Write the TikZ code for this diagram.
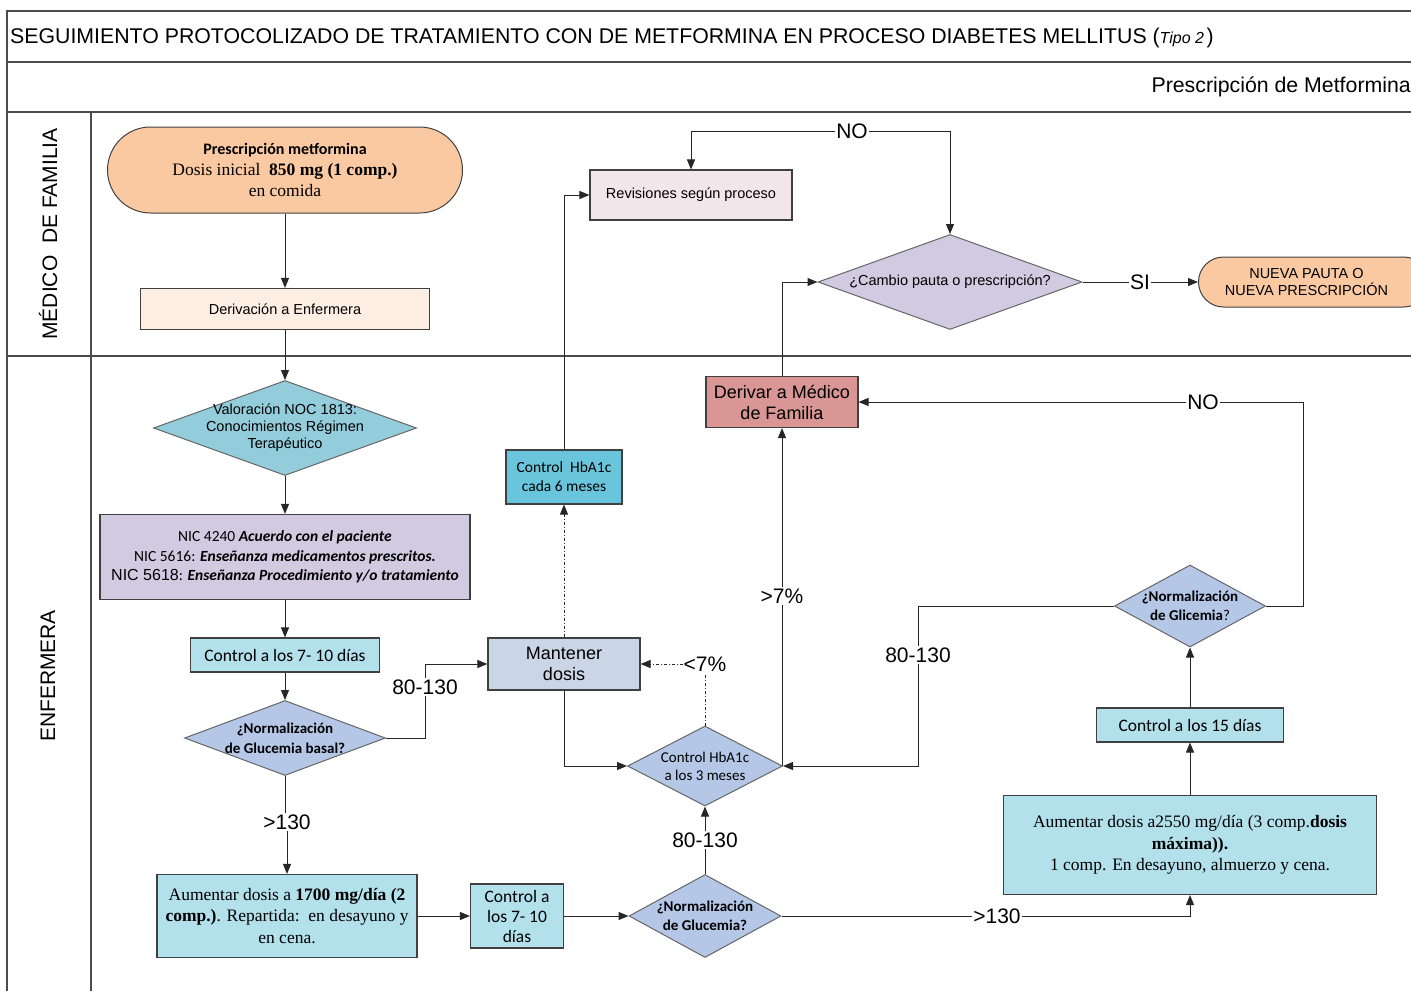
\documentclass[tikz,border=0pt]{standalone}
\usepackage{fontspec}
\setmainfont{Liberation Sans}
\newfontfamily\calib{Carlito}
\newfontfamily\tnr{Liberation Serif}
\usetikzlibrary{shapes.geometric,arrows.meta}

\newcommand{\fsz}[2]{\fontsize{#1}{#2}\selectfont}

\definecolor{peach}{HTML}{FAC9A2}
\definecolor{cream}{HTML}{FDEEE3}
\definecolor{teal}{HTML}{93CDDC}
\definecolor{lavend}{HTML}{D2CAE1}
\definecolor{lblue}{HTML}{B2E0EB}
\definecolor{dblue}{HTML}{B4C7E7}
\definecolor{greyblue}{HTML}{CAD6E6}
\definecolor{cyanbox}{HTML}{69C5DB}
\definecolor{rosy}{HTML}{F2E6EB}
\definecolor{redbox}{HTML}{DA9694}

\tikzset{
  box/.style={draw=black!75, line width=1.1pt, inner sep=0pt, align=center},
  dia/.style={diamond, draw=black!60, line width=1pt, inner sep=0pt},
  term/.style={box, line width=1pt},
  arr/.style={line width=1pt, draw=black!85, -{Triangle[length=10pt,width=8pt]}},
  ln/.style={line width=1pt, draw=black!85},
  lbl/.style={fill=white, inner sep=1pt, font=\fsz{21}{24}},
  frame/.style={line width=1.4pt, draw=black!70}
}

\begin{document}
\begin{tikzpicture}[x=1pt, y=-1pt]

\useasboundingbox (0,0) rectangle (1411,991);

% frame and lanes
\draw[frame] (1411,11) -- (7,11) -- (7,991);
\draw[frame] (7,62) -- (1411,62);
\draw[frame] (7,112) -- (1411,112);
\draw[frame] (7,356) -- (1411,356);
\draw[frame] (91,112) -- (91,991);

\node[anchor=west, inner sep=0pt, font=\fsz{21.3}{24}] (title) at (10,38) {SEGUIMIENTO PROTOCOLIZADO DE TRATAMIENTO CON DE METFORMINA EN PROCESO DIABETES MELLITUS ({\fsz{16}{18}\itshape Tipo 2\,})};
\node[anchor=east, inner sep=0pt, font=\fsz{21.3}{24}] (sub) at (1411,87) {Prescripción de Metformina};
\node[rotate=90, inner sep=0pt, font=\fsz{21}{24}] (lane1) at (48,234) {MÉDICO\ \ DE FAMILIA};
\node[rotate=90, inner sep=0pt, font=\fsz{21}{24}] (lane2) at (48,676) {ENFERMERA};

% medico de familia
\node[term, fill=peach, rounded corners=43pt, minimum width=355pt, minimum height=86pt, font=\tnr\fsz{17.5}{21}] (presc) at (285,170)
  {{\calib\bfseries\fsz{16}{21}Prescripción metformina}\\
   Dosis inicial\ \ \textbf{850 mg (1 comp.)}\\
   en comida};
\node[box, fill=cream, minimum width=289pt, minimum height=41pt, font=\fsz{14.5}{17}] (deriv) at (285,309) {Derivación a Enfermera};
\node[box, fill=rosy, minimum width=202pt, minimum height=50pt, font=\fsz{14.5}{17}] (revis) at (691,195) {Revisiones según proceso};
\node[dia, fill=lavend, minimum width=264pt, minimum height=95pt,
  label={[font=\fsz{14.5}{17}]center:¿Cambio pauta o prescripción?}] (cambio) at (950,282) {};
\node[term, fill=peach, rounded corners=25pt, minimum width=230pt, minimum height=50pt, anchor=west,
  label={[align=center, font=\fsz{14.5}{16.5}, xshift=-7pt]center:NUEVA PAUTA O\\ NUEVA PRESCRIPCIÓN}] (nueva) at (1198,282) {};

% enfermera
\node[dia, fill=teal, minimum width=263pt, minimum height=95pt,
  label={[align=center, font=\fsz{14.5}{17}]center:Valoración NOC 1813:\\ Conocimientos Régimen\\ Terapéutico}] (valor) at (285,428) {};
\node[box, fill=lavend, minimum width=370pt, minimum height=85pt, font=\calib\fsz{15.5}{19.5}] (nic) at (285,557)
  {NIC 4240 \textbf{\textit{Acuerdo con el paciente}}\\
   NIC 5616: \textbf{\textit{Enseñanza medicamentos prescritos.}}\\
   {\rmfamily\fsz{16}{19.5}NIC 5618}: \textbf{\textit{Enseñanza Procedimiento y/o tratamiento}}};
\node[box, fill=lblue, minimum width=189pt, minimum height=34pt, font=\calib\fsz{17.5}{20}] (ctrla) at (285,655) {Control a los 7- 10 días};
\node[dia, fill=dblue, minimum width=201pt, minimum height=75pt,
  label={[align=center, font=\calib\bfseries\fsz{15}{20}]center:¿Normalización\\ de Glucemia basal?}] (normb) at (285,738) {};
\node[box, fill=lblue, minimum width=260pt, minimum height=83pt, font=\tnr\fsz{17.5}{21.5}] (aum1) at (287,916)
  {Aumentar dosis a \textbf{1700 mg/día (2}\\
   \textbf{comp.)}. Repartida:\ \ en desayuno y\\
   en cena.};
\node[box, fill=lblue, minimum width=93pt, minimum height=64pt, font=\calib\fsz{17.5}{20}] (ctrlb) at (517,916)
  {Control a\\ los 7- 10\\ días};
\node[dia, fill=dblue, minimum width=152pt, minimum height=83pt,
  label={[align=center, font=\calib\bfseries\fsz{15}{19}]center:¿Normalización\\ de Glucemia?}] (normg) at (705,916) {};
\node[dia, fill=dblue, minimum width=155pt, minimum height=80pt,
  label={[align=center, font=\calib\fsz{15}{18}]center:Control HbA1c\\ a los 3 meses}] (hba3) at (705,766) {};
\node[box, fill=greyblue, minimum width=152pt, minimum height=52pt, font=\fsz{18}{21}] (mant) at (564,664) {Mantener\\ dosis};
\node[box, fill=cyanbox, minimum width=116pt, minimum height=54pt, font=\calib\fsz{15.5}{19}] (hba6) at (564,477)
  {Control\ \ HbA1c\\ cada 6 meses};
\node[box, fill=redbox, minimum width=152pt, minimum height=51pt, font=\fsz{18}{21}] (derm) at (782,402) {Derivar a Médico\\ de Familia};
\node[dia, fill=dblue, minimum width=151pt, minimum height=82pt,
  label={[align=center, font=\calib\bfseries\fsz{15}{19}]center:¿Normalización\\ de Glicemia{\mdseries ?}}] (normgl) at (1190,606) {};
\node[box, fill=lblue, minimum width=187pt, minimum height=34pt, font=\calib\fsz{17.5}{20}] (ctrl15) at (1190,725) {Control a los 15 días};
\node[box, fill=lblue, minimum width=373pt, minimum height=99pt, font=\tnr\fsz{17.5}{21.5}] (aum2) at (1190,845)
  {Aumentar dosis a2550 mg/día (3 comp.\textbf{dosis}\\
   \textbf{máxima)).}\\
   1 comp. En desayuno, almuerzo y cena.};

% labels on connectors
\node[lbl] (no1) at (852,131) {NO};
\node[lbl] (si) at (1140,282) {SI};
\node[lbl] (no2) at (1203,402) {NO};
\coordinate (c1) at (1303,402);
\node[lbl] (r8) at (918,655) {80-130};
\node[lbl] (g7) at (782,596) {>7\%};
\node[lbl] (l7) at (705,664) {<7\%};
\node[lbl] (b8) at (425,687) {80-130};
\node[lbl] (g130) at (287,822) {>130};
\node[lbl] (m8) at (705,840) {80-130};
\node[lbl] (g130b) at (997,916) {>130};

% connectors
\draw[arr] (presc) -- (deriv);
\draw[arr] (deriv) -- (valor);
\draw[arr] (valor) -- (nic);
\draw[arr] (nic.south) -- (ctrla.north);
\draw[arr] (ctrla) -- (normb);
\draw[ln] (normb.south) -- (normb.south |- g130.north);
\draw[arr] (g130.south) -- (aum1.north);
\draw[ln] (normb.east) -| (b8.south);
\draw[arr] (b8.north) |- (mant.west);
\draw[arr] (aum1.east) -- (ctrlb.west);
\draw[arr] (ctrlb.east) -- (normg.west);
\draw[ln] (normg.north) -- (m8.south);
\draw[arr] (m8.north) -- (hba3.south);
\draw[ln] (normg.east) -- (g130b.west);
\draw[arr] (g130b.east) -| (aum2.south);
\draw[arr] (aum2) -- (ctrl15);
\draw[arr] (ctrl15) -- (normgl);
\draw[ln] (normgl.west) -| (r8.north);
\draw[arr] (r8.south) |- (hba3.east);
\draw[ln] (normgl.east) -| (c1) -- (no2.east);
\draw[arr] (no2.west) -- (derm.east);
\draw[ln] (hba3.east -| g7) -- (g7.south);
\draw[arr] (g7.north) -- (derm.south);
\draw[ln, dash dot] (hba3.north) -- (l7.south);
\draw[arr, dash dot] (l7.west) -- (mant.east);
\draw[arr] (mant.south) |- (hba3.west);
\draw[arr, dash dot] (mant.north) -- (hba6.south);
\draw[arr] (hba6.north) |- (revis.west);
\draw[arr] (derm.north) |- (cambio.west);
\draw[ln] (cambio.east) -- (si.west);
\draw[arr] (si.east) -- (nueva.west);
\draw[arr] (no1.west) -| (revis.north);
\draw[arr] (no1.east) -| (cambio.north);

\end{tikzpicture}
\end{document}
